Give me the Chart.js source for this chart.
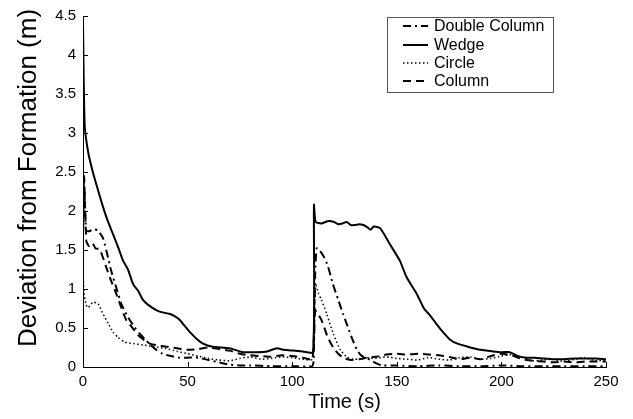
<!DOCTYPE html>
<html>
<head>
<meta charset="utf-8">
<script src="https://cdn.jsdelivr.net/npm/chart.js@4.4.1/dist/chart.umd.min.js"></script>
<style>
  html, body { margin: 0; padding: 0; background: #fff; }
  #wrap { width: 633px; height: 419px; }
</style>
</head>
<body>
<div id="wrap"><canvas id="chart" width="633" height="419"></canvas></div>
<script>
// tick labels
const xTicks = [0, 50, 100, 150, 200, 250];
const yTicks = [0, 0.5, 1, 1.5, 2, 2.5, 3, 3.5, 4, 4.5];

// series names
const seriesNames = ['Double Column', 'Wedge', 'Circle', 'Column'];

// Double Column (dash-dot)
const doubleColumnTime = [0, 0.6, 1.5, 3, 5, 7, 9.6, 12, 13.5, 15.9,
  18.3, 21.5, 24.7, 27, 29.5, 32, 35, 38,
  42, 46, 50, 55, 60, 65, 70, 75, 80, 90,
  100, 109.5, 110.3, 111, 111.7, 113, 115, 117, 119.5, 122,
  124.3, 126.5, 129, 131, 132.5, 134, 136, 138, 140, 143,
  150, 160, 170, 180, 190, 200, 210, 220, 230, 240, 250];
const doubleColumnDev = [1.9, 2.3, 1.75, 1.74, 1.77, 1.75, 1.65, 1.4, 1.23, 1.02,
  0.81, 0.64, 0.51, 0.43, 0.36, 0.29, 0.22, 0.17,
  0.14, 0.12, 0.12, 0.12, 0.09, 0.06, 0.03, 0.02, 0.02, 0.01,
  0.01, 0.01, 0.1, 1.2, 1.52, 1.5, 1.42, 1.3, 1.06, 0.86,
  0.68, 0.52, 0.34, 0.22, 0.16, 0.13, 0.11, 0.08, 0.05, 0.02,
  0.02, 0.01, 0.02, 0.01, 0.01, 0.02, 0.01, 0.01, 0.01, 0.01, 0.01];

// Wedge (solid)
const wedgeTime = [0, 0.8, 2.5, 4.5, 6.5, 9.6, 12, 14.4, 17, 19.2,
  21.5, 24, 26.3, 28.7, 31, 35, 38, 41.6, 44, 46.4,
  48.5, 51, 54, 57.4, 62, 70, 76.5, 83, 88, 92.7,
  96, 100.4, 105, 110, 110.4, 111.2, 114, 117, 120, 122,
  124, 126, 128, 130, 132, 134, 136, 137.5, 139, 142,
  146.8, 151.5, 154.7, 159.5, 163, 166, 169, 172, 175.5, 179,
  184, 190, 196, 200, 204, 208, 212, 216, 220, 225,
  230, 235, 240, 245, 250];
const wedgeDev = [4.4, 3.1, 2.75, 2.52, 2.33, 2.05, 1.86, 1.7, 1.52, 1.36,
  1.25, 1.06, 0.98, 0.86, 0.8, 0.73, 0.7, 0.68, 0.65, 0.6,
  0.53, 0.45, 0.37, 0.3, 0.26, 0.24, 0.19, 0.19, 0.2, 0.24,
  0.22, 0.21, 0.2, 0.19, 2.08, 1.86, 1.84, 1.87, 1.86, 1.83,
  1.84, 1.86, 1.82, 1.82, 1.83, 1.82, 1.79, 1.76, 1.8, 1.78,
  1.57, 1.36, 1.15, 0.94, 0.75, 0.66, 0.55, 0.45, 0.35, 0.3,
  0.26, 0.22, 0.2, 0.19, 0.19, 0.14, 0.12, 0.12, 0.11, 0.1,
  0.1, 0.11, 0.11, 0.11, 0.1];

// Circle (dotted)
const circleTime = [0, 0.5, 1.5, 2.4, 4.8, 7.2, 9.6, 12, 14.3, 16.7,
  19.9, 24, 29.5, 34, 39, 45, 50, 55,
  60, 65, 70, 75, 80, 85, 90, 95, 100, 105,
  109.5, 110.4, 111.3, 112.5, 114, 116.5, 119.6, 123, 126, 129,
  132, 135, 140, 145, 150, 155, 160, 165, 170,
  175, 180, 185, 190, 195, 200, 205, 210, 215, 220,
  225, 230, 235, 240, 245, 250];
const circleDev = [1.2, 0.95, 0.8, 0.76, 0.83, 0.81, 0.68, 0.56, 0.45, 0.38,
  0.32, 0.3, 0.28, 0.26, 0.24, 0.2, 0.17, 0.14,
  0.11, 0.09, 0.08, 0.11, 0.13, 0.1, 0.11, 0.13, 0.12, 0.1,
  0.1, 0.6, 1.05, 0.95, 0.86, 0.68, 0.43, 0.22, 0.13, 0.1,
  0.1, 0.12, 0.11, 0.13, 0.11, 0.1, 0.09, 0.12, 0.1,
  0.09, 0.12, 0.13, 0.1, 0.11, 0.14, 0.16, 0.12, 0.08, 0.09,
  0.1, 0.07, 0.1, 0.12, 0.08, 0.09];

// Column (dashed)
const columnTime = [0, 0.5, 1.6, 3, 4.5, 6, 8, 11.2, 13.5, 15.9,
  18.3, 20.7, 24, 26.3, 29.5, 32, 35,
  40, 45, 50, 55, 60, 65, 70, 75, 80, 85,
  90, 95, 100, 105, 109.5, 110.4, 111.1, 114, 117, 119.6,
  122, 125, 128, 132, 136, 140, 145, 150,
  155, 160, 165, 170, 175, 180, 185, 190, 195, 200,
  205, 210, 215, 220, 225, 230, 235, 240, 245, 250];
const columnDev = [1.6, 2.45, 1.61, 1.55, 1.59, 1.52, 1.51, 1.27, 1.1, 0.94,
  0.76, 0.6, 0.49, 0.41, 0.34, 0.3, 0.28,
  0.26, 0.24, 0.22, 0.23, 0.25, 0.23, 0.21, 0.17, 0.15, 0.14,
  0.13, 0.15, 0.14, 0.12, 0.1, 0.4, 0.72, 0.6, 0.38, 0.25,
  0.17, 0.11, 0.09, 0.1, 0.12, 0.13, 0.16, 0.17,
  0.16, 0.17, 0.16, 0.15, 0.13, 0.1, 0.12, 0.1, 0.14, 0.17,
  0.15, 0.1, 0.08, 0.07, 0.06, 0.07, 0.06, 0.07, 0.07, 0.07];

const yTitle = 'Deviation from Formation (m)';
const FONT = "'Liberation Sans', Arial, Helvetica, sans-serif";

function toPoints(t, v) {
  return t.map((x, i) => ({ x: x, y: v[i] }));
}

function lineSet(label, t, v, dash, width) {
  return {
    label: label,
    data: toPoints(t, v),
    borderColor: '#000',
    backgroundColor: '#000',
    borderWidth: width,
    borderDash: dash,
    pointRadius: 0,
    tension: 0.2,
    fill: false
  };
}

// inward tick marks, y title and boxed legend
const extras = {
  id: 'extras',
  afterDraw(chart) {
    const ctx = chart.ctx;
    const xs = chart.scales.x, ys = chart.scales.y;
    const area = chart.chartArea;
    ctx.save();
    ctx.strokeStyle = '#000';
    ctx.lineWidth = 1;
    ctx.setLineDash([]);
    ctx.beginPath();
    xTicks.forEach(v => {
      const px = Math.round(xs.getPixelForValue(v)) + 0.5;
      ctx.moveTo(px, area.bottom);
      ctx.lineTo(px, area.bottom - 5);
    });
    yTicks.forEach(v => {
      const py = Math.round(ys.getPixelForValue(v)) + 0.5;
      ctx.moveTo(area.left, py);
      ctx.lineTo(area.left + 5, py);
    });
    ctx.stroke();

    // y axis title, sits a little above the plot centre as in the original
    ctx.save();
    ctx.translate(36, 178);
    ctx.rotate(-Math.PI / 2);
    ctx.font = '26px ' + FONT;
    ctx.fillStyle = '#000';
    ctx.textAlign = 'center';
    ctx.textBaseline = 'alphabetic';
    ctx.fillText(yTitle, 0, 0);
    ctx.restore();

    // legend box
    const bx = 387.5, by = 17.5, bw = 166, bh = 75;
    ctx.fillStyle = '#fff';
    ctx.fillRect(bx, by, bw, bh);
    ctx.strokeStyle = '#555';
    ctx.strokeRect(bx, by, bw, bh);
    const rowY = [26, 45, 63, 81];
    ctx.font = '16px ' + FONT;
    ctx.textBaseline = 'middle';
    ctx.textAlign = 'left';
    chart.data.datasets.forEach((ds, i) => {
      ctx.strokeStyle = '#000';
      ctx.lineWidth = ds.borderWidth;
      ctx.setLineDash(ds.borderDash || []);
      ctx.beginPath();
      ctx.moveTo(403, rowY[i]);
      ctx.lineTo(428, rowY[i]);
      ctx.stroke();
      ctx.setLineDash([]);
      ctx.fillStyle = '#000';
      ctx.fillText(ds.label, 434, rowY[i] + 1);
    });
    ctx.restore();
  }
};

new Chart(document.getElementById('chart').getContext('2d'), {
  type: 'line',
  data: {
    datasets: [
      lineSet(seriesNames[0], doubleColumnTime, doubleColumnDev, [8, 4, 2, 4], 2),
      lineSet(seriesNames[1], wedgeTime, wedgeDev, [], 2),
      lineSet(seriesNames[2], circleTime, circleDev, [1.5, 2.5], 1.5),
      lineSet(seriesNames[3], columnTime, columnDev, [8, 5], 2)
    ]
  },
  options: {
    responsive: false,
    animation: false,
    layout: { padding: { top: 12, right: 27, left: 0, bottom: 0 } },
    plugins: {
      legend: { display: false },
      tooltip: { enabled: false }
    },
    scales: {
      x: {
        type: 'linear',
        min: 0,
        max: 250,
        afterBuildTicks: s => { s.ticks = xTicks.map(v => ({ value: v })); },
        afterFit: s => { s.height = 52; },
        grid: { display: true, drawOnChartArea: false, drawTicks: false },
        border: { display: true, color: '#000', width: 1 },
        ticks: { color: '#000', padding: 6, maxRotation: 0, font: { family: FONT, size: 15 }, callback: v => String(v) },
        title: { display: true, text: 'Time (s)', color: '#000', padding: { top: 0, bottom: 5 }, font: { family: FONT, size: 20 } }
      },
      y: {
        type: 'linear',
        min: 0,
        max: 4.5,
        afterBuildTicks: s => { s.ticks = yTicks.map(v => ({ value: v })); },
        afterFit: s => { s.width = 83; },
        grid: { display: true, drawOnChartArea: false, drawTicks: false },
        border: { display: true, color: '#000', width: 1 },
        ticks: { color: '#000', padding: 7, font: { family: FONT, size: 15 }, callback: v => String(v) },
        title: { display: false }
      }
    }
  },
  plugins: [extras]
});
</script>
</body>
</html>
